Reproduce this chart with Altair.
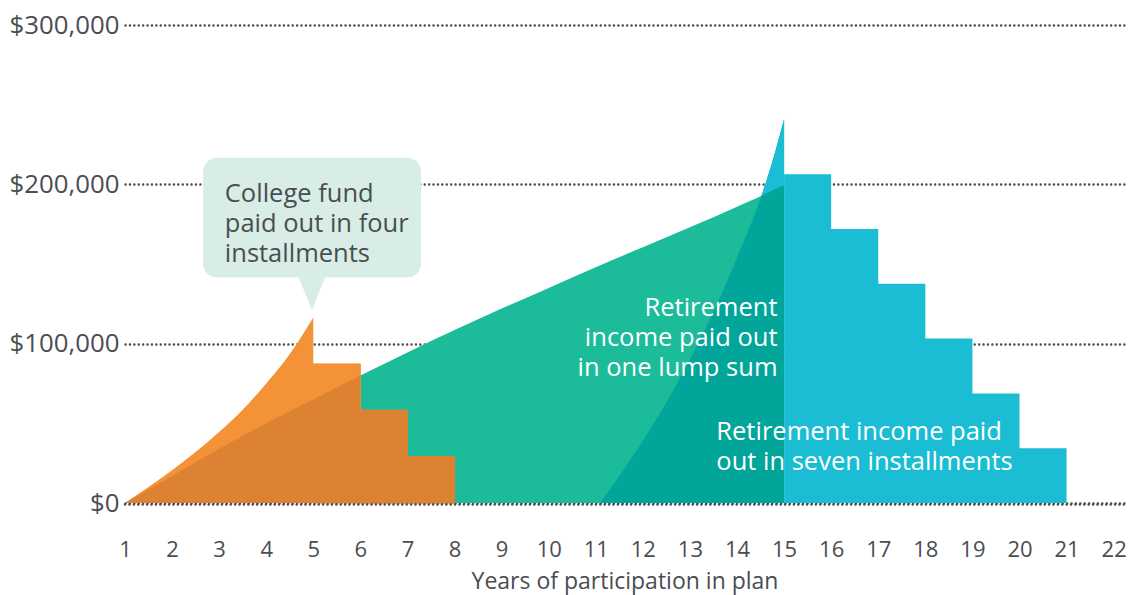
import altair as alt
import pandas as pd

# ---------------- data ----------------
green_x = [1, 2, 3, 4, 5, 6, 7, 8, 9, 10, 11, 12, 13, 14, 14.52, 14.75, 15]
green_y = [0, 17000, 34000, 50000, 65000, 80000, 94500, 108500, 122000, 135000,
           148000, 160500, 173000, 186000, 192800, 196300, 199500]

orange_curve_x = [1, 1.5, 2, 2.5, 3, 3.5, 4, 4.5, 5]
orange_curve_y = [0, 10000, 20500, 32000, 44500, 58500, 75000, 93500, 116400]
orange_step_x = [5, 6, 7, 8]
orange_step_y = [87300, 58200, 29100, 0]

blue_curve_x = [11.1, 11.5, 12, 12.5, 13, 13.5, 14, 14.52, 14.75, 15]
blue_curve_y = [0, 17000, 39000, 63000, 90000, 120000, 154000, 192800, 214000, 240800]
blue_step_x = [15, 16, 17, 18, 19, 20, 21]
blue_step_y = [206400, 172000, 137600, 103200, 68800, 34400, 0]

year_ticks = list(range(1, 23))
money_ticks = [0, 100000, 200000, 300000]

ann_text = ["College fund\npaid out in four\ninstallments",
            "Retirement\nincome paid out\nin one lump sum",
            "Retirement income paid\nout in seven installments"]
ann_x = [3.12, 14.86, 13.56]
ann_y = [194200, 122100, 44500]
ann_align = ["left", "right", "left"]
ann_color = ["#4a4d52", "#ffffff", "#ffffff"]

bubble_x = [2.66]
bubble_x2 = [7.29]
bubble_y = [141500]
bubble_y2 = [216700]
pointer_x = [4.97]
pointer_y = [131500]

# ---------------- colours ----------------
C_ORANGE = "#F39237"
C_ORANGE_DK = "#DD8233"
C_GREEN = "#1CBB9A"
C_TEAL_DK = "#02A59A"
C_BLUE = "#1ABDD4"
C_BUBBLE = "#D7EDE6"
C_TEXT = "#4a4d52"
FONT = "Open Sans"

# ---------------- tables ----------------
green = pd.DataFrame({"x": green_x, "y": green_y})
orange_curve = pd.DataFrame({"x": orange_curve_x, "y": orange_curve_y})
orange_step = pd.DataFrame({"x": orange_step_x, "y": orange_step_y})
blue_curve = pd.DataFrame({"x": blue_curve_x, "y": blue_curve_y})
blue_step = pd.DataFrame({"x": blue_step_x, "y": blue_step_y})

# overlap pieces derived from the series above
green_under_orange = green[green["x"] <= 6]
orange_step_dark = orange_step[orange_step["x"] >= 6]
patch = blue_curve.merge(green, on="x", suffixes=("_b", "_g"))
patch = patch[patch["y_b"] >= patch["y_g"]]

ann = pd.DataFrame({"x": ann_x, "y": ann_y, "t": ann_text})
bubble = pd.DataFrame({"x": bubble_x, "x2": bubble_x2, "y": bubble_y, "y2": bubble_y2})
pointer = pd.DataFrame({"x": pointer_x, "y": pointer_y})
zero = pd.DataFrame({"y": [0]})

W = 999
H = 478
xs = alt.Scale(domain=[1, 22.22], nice=False, zero=False)
ys = alt.Scale(domain=[0, 300000], nice=False)

X = alt.X("x:Q", scale=xs, axis=alt.Axis(
    values=year_ticks, format="d", title="Years of participation in plan",
    labelFontSize=22, labelColor=C_TEXT, labelFont=FONT, labelPadding=36,
    titleFont=FONT, titleFontSize=23, titleFontWeight="normal", titleColor=C_TEXT,
    titlePadding=10, domain=False, ticks=False, grid=False, labelFlush=False))
Y = alt.Y("y:Q", scale=ys, axis=alt.Axis(
    values=money_ticks, labelExpr="'$' + format(datum.value, ',')", title=None,
    labelFontSize=25.8, labelColor=C_TEXT, labelFont=FONT, labelPadding=6,
    domain=False, ticks=False, grid=True, gridColor="#4a4d52", gridWidth=2.4,
    gridDash=[0.1, 4.3], gridCap="round", labelFlush=False))
Xp = alt.X("x:Q", scale=xs)
Yp = alt.Y("y:Q", scale=ys)


def area(df, color, interp, seam=False):
    kw = dict(color=color, interpolate=interp)
    if seam:
        kw.update(stroke=color, strokeWidth=1)
    return alt.Chart(df).mark_area(**kw).encode(x=Xp, y=Yp)


base = alt.Chart(green).mark_area(color=C_GREEN, interpolate="monotone").encode(x=X, y=Y)

layers = [
    base,
    area(orange_curve, C_ORANGE, "monotone"),
    area(orange_step, C_ORANGE, "step-after", seam=True),
    area(green_under_orange, C_ORANGE_DK, "monotone"),
    area(orange_step_dark, C_ORANGE_DK, "step-after", seam=True),
    area(blue_curve, C_TEAL_DK, "monotone"),
    alt.Chart(patch).mark_area(color=C_BLUE, interpolate="linear").encode(
        x=Xp, y=alt.Y("y_b:Q", scale=ys), y2="y_g:Q"),
    area(blue_step, C_BLUE, "step-after"),
    alt.Chart(zero).mark_rule(color="#4a4d52", strokeWidth=2.4, strokeDash=[0.1, 4.3],
                              strokeCap="round", yOffset=1.5).encode(
        y=Yp, x=alt.value(0), x2=alt.value(W)),
    alt.Chart(bubble).mark_rect(color=C_BUBBLE, cornerRadius=14).encode(
        x=Xp, x2="x2:Q", y=Yp, y2="y2:Q"),
    alt.Chart(pointer).mark_point(shape="M -0.95 -1.35 L 0.95 -1.35 L 0 1 Z", filled=True,
                                  opacity=1, color=C_BUBBLE, size=1089, strokeWidth=0).encode(
        x=Xp, y=Yp),
]
for i in range(len(ann_text)):
    layers.append(
        alt.Chart(ann.iloc[[i]]).mark_text(
            align=ann_align[i], baseline="middle", fontSize=25.5, font=FONT,
            lineHeight=30, lineBreak="\n", color=ann_color[i]).encode(
            x=Xp, y=Yp, text="t:N"))

chart = alt.layer(*layers).properties(
    width=W, height=H,
    background="white",
    autosize=alt.AutoSizeParams(type="none"),
    padding={"left": 117, "top": 17, "right": 2, "bottom": 92},
).configure_view(stroke=None)

chart.save("out.html", embed_options={"renderer": "svg", "actions": False})
